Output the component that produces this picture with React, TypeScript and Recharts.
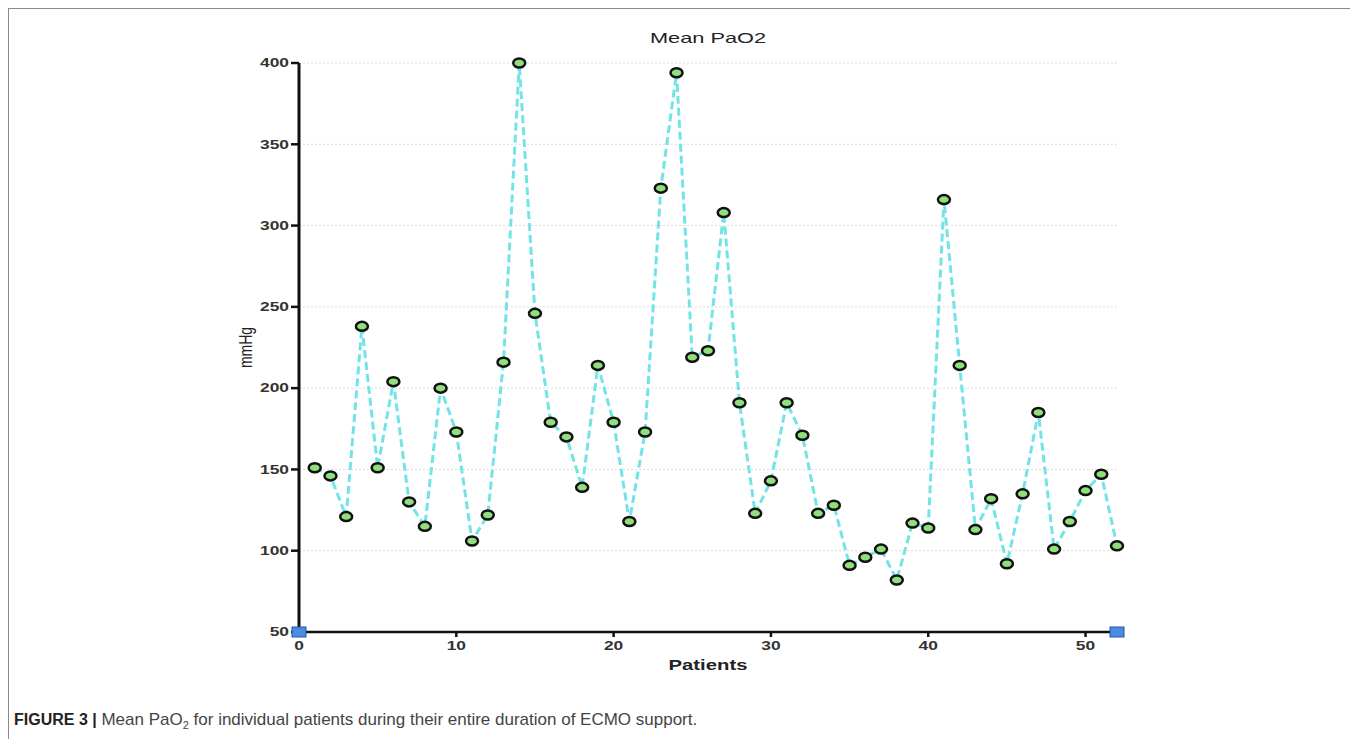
import React from 'react';
import { ComposedChart, Line, Scatter, XAxis, YAxis, CartesianGrid, Label } from 'recharts';

// mean PaO2 (mmHg) per patient
const patients = [1, 2, 3, 4, 5, 6, 7, 8, 9, 10, 11, 12, 13, 14, 15, 16, 17, 18, 19, 20, 21, 22, 23, 24, 25, 26,
    27, 28, 29, 30, 31, 32, 33, 34, 35, 36, 37, 38, 39, 40, 41, 42, 43, 44, 45, 46, 47, 48, 49, 50, 51, 52];
const meanPaO2 = [151, 146, 121, 238, 151, 204, 130, 115, 200, 173, 106, 122, 216, 400, 246, 179, 170, 139, 214, 179,
    118, 173, 323, 394, 219, 223, 308, 191, 123, 143, 191, 171, 123, 128, 91, 96, 101, 82, 117, 114,
    316, 214, 113, 132, 92, 135, 185, 101, 118, 137, 147, 103];

// the two blue squares sitting on the x axis
const cornerX = [0, 52];
const cornerY = [50, 50];

const xTicks = [0, 10, 20, 30, 40, 50];
const yTicks = [50, 100, 150, 200, 250, 300, 350, 400];

const data = patients.map((p, i) => ({ patient: p, value: meanPaO2[i] }));
const corners = cornerX.map((x, i) => ({ patient: x, value: cornerY[i] }));

const font = '"Liberation Sans", Arial, sans-serif';
// the source picture is stretched sideways, so its text is too
const stretch = 1.45;

const EllipseDot = (props: any) => {
    const { cx, cy } = props;
    if (cx == null || cy == null) return null;
    return <ellipse cx={cx} cy={cy} rx={6} ry={4.5} fill="#8fdf7c" stroke="#111" strokeWidth={2.5} />;
};

const BlueSquare = (props: any) => {
    const { cx, cy } = props;
    if (cx == null || cy == null) return null;
    return <rect x={cx - 7} y={cy - 5} width={14} height={10} fill="#4a8ae0" stroke="#2457a8" strokeWidth={1} />;
};

const YTick = (props: any) => {
    const { x, y, payload } = props;
    return (
        <g transform={`translate(${x},${y}) scale(${stretch},1)`}>
            <text x={0} y={0} dy="0.36em" textAnchor="end" fill="#333" fontSize={12} fontWeight="bold" fontFamily={font}>
                {payload.value}
            </text>
        </g>
    );
};

const XTick = (props: any) => {
    const { x, y, payload } = props;
    return (
        <g transform={`translate(${x},${y}) scale(${stretch},1)`}>
            <text x={0} y={0} dy="0.75em" textAnchor="middle" fill="#333" fontSize={12} fontWeight="bold" fontFamily={font}>
                {payload.value}
            </text>
        </g>
    );
};

const App: React.FC = () => {
    return (
        <div style={{
            position: 'relative',
            marginLeft: -1,
            marginTop: -1,
            width: 1346,
            height: 740,
            border: '2px solid #8a8a8a',
            borderBottom: 'none',
            background: '#fff',
            fontFamily: font,
        }}>
            <div style={{
                position: 'absolute',
                left: 599,
                top: 20,
                width: 200,
                textAlign: 'center',
                fontSize: 15,
                color: '#222',
                transform: `scaleX(${stretch})`,
            }}>
                Mean PaO2
            </div>
            <div style={{ position: 'absolute', left: 0, top: 0 }}>
                <ComposedChart
                    width={1340}
                    height={700}
                    data={data}
                    margin={{ top: 54, right: 232, left: 230, bottom: 37 }}
                >
                    <CartesianGrid horizontal vertical={false} stroke="#dcdcdc" strokeDasharray="2 2" />
                    <XAxis
                        dataKey="patient"
                        type="number"
                        domain={[0, 52]}
                        ticks={xTicks}
                        height={40}
                        axisLine={{ stroke: '#111', strokeWidth: 2.5 }}
                        tickLine={{ stroke: '#111', strokeWidth: 2.5 }}
                        tickSize={5}
                        tickMargin={4}
                        tick={<XTick />}
                    >
                        <Label
                            position="insideBottom"
                            content={(p: any) => {
                                const vb = p.viewBox;
                                const cx = vb.x + vb.width / 2;
                                const cy = vb.y + vb.height - 2;
                                return (
                                    <g transform={`translate(${cx},${cy}) scale(${stretch},1)`}>
                                        <text x={0} y={0} textAnchor="middle" fill="#222" fontSize={14} fontWeight="bold" fontFamily={font}>
                                            Patients
                                        </text>
                                    </g>
                                );
                            }}
                        />
                    </XAxis>
                    <YAxis
                        dataKey="value"
                        type="number"
                        domain={[50, 400]}
                        ticks={yTicks}
                        width={60}
                        axisLine={{ stroke: '#111', strokeWidth: 3 }}
                        tickLine={{ stroke: '#111', strokeWidth: 2.5 }}
                        tickSize={8}
                        tick={<YTick />}
                    >
                        <Label
                            position="insideLeft"
                            content={(p: any) => {
                                const vb = p.viewBox;
                                const cx = vb.x + 6;
                                const cy = vb.y + vb.height / 2;
                                return (
                                    <g transform={`translate(${cx},${cy}) scale(1.3,1) rotate(-90)`}>
                                        <text x={0} y={0} dy="0.36em" textAnchor="middle" fill="#222" fontSize={14} fontFamily={font}>
                                            mmHg
                                        </text>
                                    </g>
                                );
                            }}
                        />
                    </YAxis>
                    <Line
                        type="linear"
                        dataKey="value"
                        stroke="#72e4e8"
                        strokeWidth={3}
                        strokeDasharray="8 4"
                        dot={<EllipseDot />}
                        activeDot={false}
                        isAnimationActive={false}
                    />
                    <Scatter data={corners} dataKey="value" shape={<BlueSquare />} isAnimationActive={false} />
                </ComposedChart>
            </div>
            <div style={{
                position: 'absolute',
                left: 5,
                top: 701,
                fontSize: 17,
                color: '#444',
                whiteSpace: 'nowrap',
            }}>
                <b style={{ color: '#222', fontSize: 16 }}>FIGURE 3 |</b> Mean PaO<sub style={{ fontSize: 11 }}>2</sub> for individual patients during their entire duration of ECMO support.
            </div>
        </div>
    );
};

export default App;
